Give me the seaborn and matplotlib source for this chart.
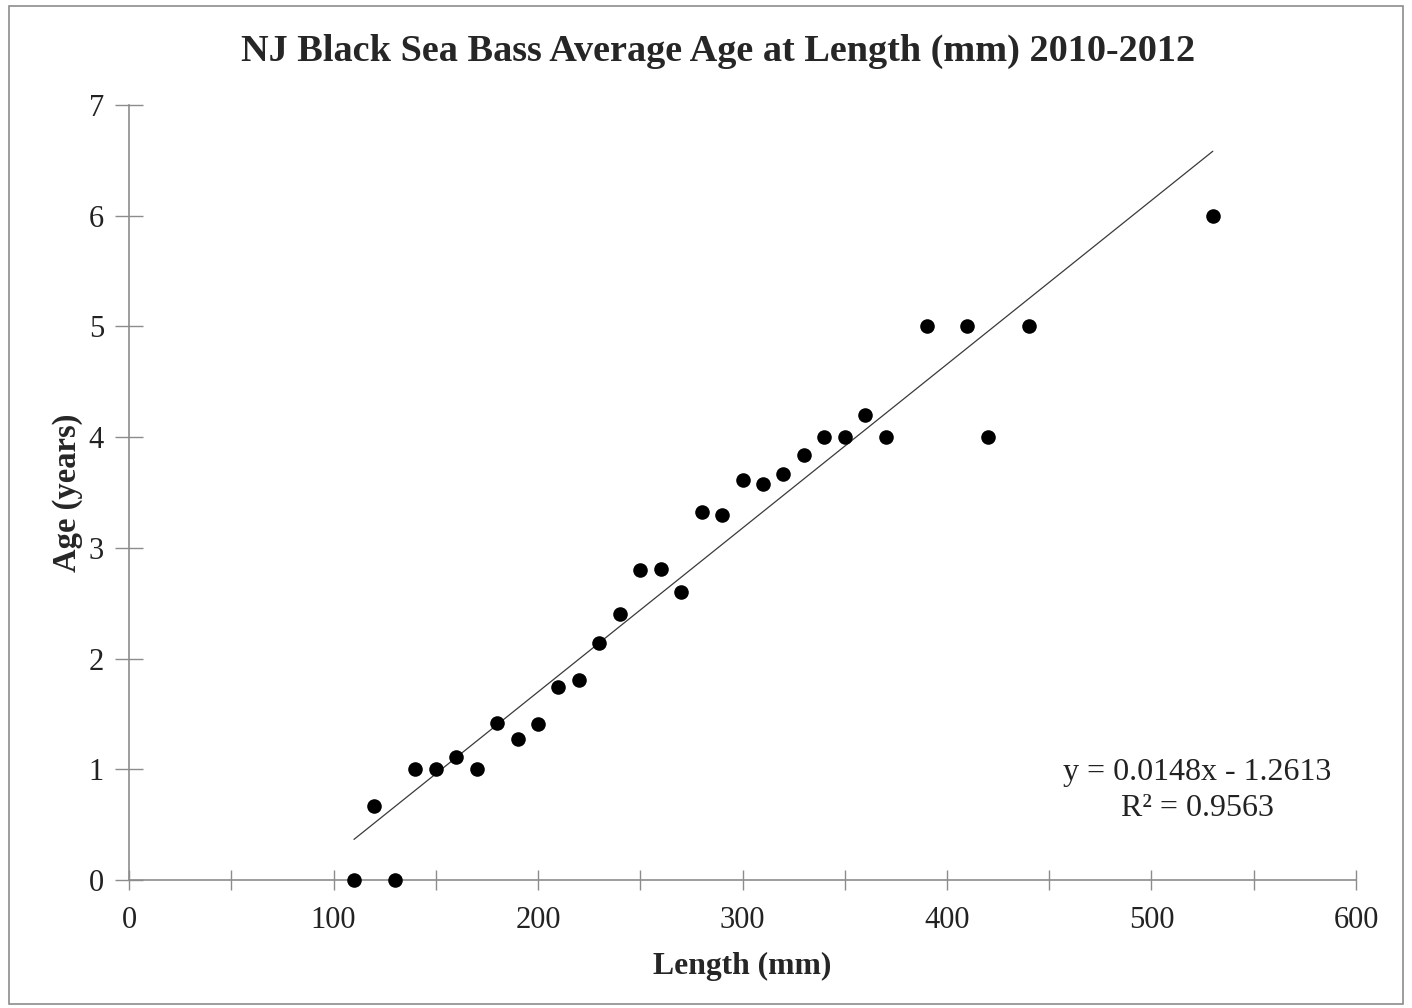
import matplotlib
matplotlib.use("Agg")
import matplotlib.pyplot as plt
import seaborn as sns
import pandas as pd
import numpy as np
from matplotlib.patches import Rectangle
from matplotlib.ticker import MultipleLocator

length_mm = [110, 120, 130, 140, 150, 160, 170, 180, 190, 200, 210, 220, 230, 240,
             250, 260, 270, 280, 290, 300, 310, 320, 330, 340, 350, 360, 370, 390,
             410, 420, 440, 530]
age_years = [0.0, 0.67, 0.0, 1.0, 1.0, 1.11, 1.0, 1.42, 1.27, 1.41, 1.74, 1.81, 2.14, 2.40,
             2.80, 2.81, 2.60, 3.32, 3.30, 3.61, 3.58, 3.67, 3.84, 4.0, 4.0, 4.20, 4.0, 5.0,
             5.0, 4.0, 5.0, 6.0]
slope = 0.0148
intercept = -1.2613
r_squared = 0.9563
title = "NJ Black Sea Bass Average Age at Length (mm) 2010-2012"
x_label = "Length (mm)"
y_label = "Age (years)"

sns.set_theme(style="white")
plt.rcParams['font.family'] = ['Liberation Serif', 'DejaVu Serif']

df = pd.DataFrame({"length": length_mm, "age": age_years})
trend_x = [min(length_mm), max(length_mm)]
trend = pd.DataFrame({"length": trend_x, "age": [slope * v + intercept for v in trend_x]})

fig = plt.figure(figsize=(14.12, 10.08), dpi=100)
ax = fig.add_axes([0.0914, 0.127, 0.9603 - 0.0914, 0.8958 - 0.127])

sns.lineplot(data=trend, x="length", y="age", ax=ax, color="#3a3a3a", linewidth=0.9)
sns.scatterplot(data=df, x="length", y="age", ax=ax, color="black", s=110,
                edgecolor="black", linewidth=0, clip_on=False, zorder=5)

ax.set_xlim(0, 600)
ax.set_ylim(0, 7)
ax.xaxis.set_major_locator(MultipleLocator(100))
ax.xaxis.set_minor_locator(MultipleLocator(50))
ax.yaxis.set_major_locator(MultipleLocator(1))

for s in ["top", "right"]:
    ax.spines[s].set_visible(False)
for s in ["left", "bottom"]:
    ax.spines[s].set_color("#8c8c8c")
    ax.spines[s].set_linewidth(1.2)

ax.tick_params(axis="x", which="both", direction="inout", length=14, width=1.0,
               color="#8c8c8c", bottom=True, labelsize=22, pad=12, labelcolor="#222222")
ax.tick_params(axis="y", which="major", direction="inout", length=20, width=1.0,
               color="#8c8c8c", left=True, labelsize=22, pad=8, labelcolor="#222222")
ax.tick_params(axis="y", which="minor", left=False)

ax.set_xlabel(x_label, fontsize=22.8, fontweight="bold", labelpad=12)
ax.set_ylabel(y_label, fontsize=23.5, fontweight="bold", labelpad=4)

fig.text(0.5085, 0.949, title, ha="center", va="center", fontsize=27.5, fontweight="bold")

eq = f"y = {slope}x - {abs(intercept)}\nR² = {r_squared}"
ax.text(522.5, 0.81, eq, ha="center", va="center", fontsize=23, linespacing=1.3,
        color="#222222")

fig.patches.append(Rectangle((0.0064, 0.004), 0.9872, 0.990, transform=fig.transFigure,
                             fill=False, edgecolor="#8c8c8c", linewidth=1.2))

fig.savefig("out.png", dpi=100)
